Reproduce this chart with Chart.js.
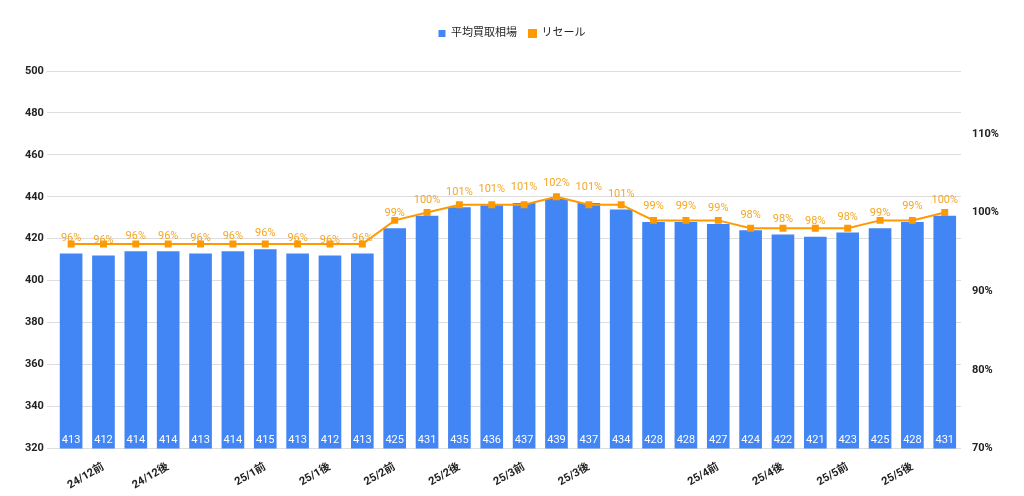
<!DOCTYPE html>
<html><head><meta charset="utf-8">
<script src="https://cdn.jsdelivr.net/npm/chart.js"></script>
<style>html,body{margin:0;background:#fff}#w{width:1024px;height:496px}</style>
</head><body><div id="w"><canvas id="c"></canvas></div>
<script>
const categories=['','24/12前','','24/12後','','','25/1前','','25/1後','','25/2前','','25/2後','','25/3前','','25/3後','','','','25/4前','','25/4後','','25/5前','','25/5後',''];
const avgPrice=[413,412,414,414,413,414,415,413,412,413,425,431,435,436,437,439,437,434,428,428,427,424,422,421,423,425,428,431];
const resale=[96,96,96,96,96,96,96,96,96,96,99,100,101,101,101,102,101,101,99,99,99,98,98,98,98,99,99,100];
const leftTicks=[320,500,20];
const rightTicks=[70,110,10];
const F='Roboto, "Noto Sans CJK JP", sans-serif';
const labelsPlugin={id:'lbl',afterDatasetsDraw(ch){const ctx=ch.ctx;ctx.save();ctx.font='11px '+F;ctx.textAlign='center';
 const m0=ch.getDatasetMeta(0),m1=ch.getDatasetMeta(1),yb=ch.scales.y.bottom;
 m0.data.forEach((b,i)=>{ctx.fillStyle='#fff';ctx.textBaseline='bottom';ctx.fillText(avgPrice[i],b.x,yb-3);});
 m1.data.forEach((p,i)=>{ctx.fillStyle='#f6a623';ctx.textBaseline='bottom';ctx.fillText(resale[i]+'%',p.x,p.y-10);});
 ctx.restore();}};
new Chart(document.getElementById('c'),{
 data:{labels:categories,datasets:[
  {type:'line',label:'リセール',data:resale,yAxisID:'y2',borderColor:'#ff9900',backgroundColor:'#ff9900',borderWidth:2,pointStyle:'rect',pointRadius:3.5,order:0},
  {type:'bar',label:'平均買取相場',data:avgPrice,yAxisID:'y',backgroundColor:'#4285f4',categoryPercentage:1,barPercentage:0.7,order:1}
 ]},
 options:{responsive:true,maintainAspectRatio:false,animation:false,
  layout:{padding:{left:22,right:22,top:16,bottom:0}},
  plugins:{legend:{position:'top',reverse:true,labels:{font:{family:F,size:11},color:'#222',boxWidth:7,boxHeight:7,padding:12},padding:0},tooltip:{enabled:false}},
  scales:{
   x:{grid:{display:false},border:{display:false},ticks:{autoSkip:false,maxRotation:30,minRotation:30,padding:4,font:{family:F,size:11,weight:'bold'},color:'#222'}},
   y:{position:'left',min:leftTicks[0],max:leftTicks[1],ticks:{stepSize:leftTicks[2],font:{family:F,size:11,weight:'bold'},color:'#222'},grid:{color:'#dddddd'},border:{display:false}},
   y2:{position:'right',min:rightTicks[0],max:118,afterBuildTicks(s){s.ticks=[];for(let v=rightTicks[0];v<=rightTicks[1];v+=rightTicks[2])s.ticks.push({value:v});},ticks:{callback:v=>v+'%',font:{family:F,size:11,weight:'bold'},color:'#222'},grid:{display:false},border:{display:false}}
  }}
 ,plugins:[labelsPlugin,{id:'lgpad',beforeInit(ch){const f=ch.legend.fit;ch.legend.fit=function(){f.bind(ch.legend)();this.height+=22;};}}]});
</script></body></html>
